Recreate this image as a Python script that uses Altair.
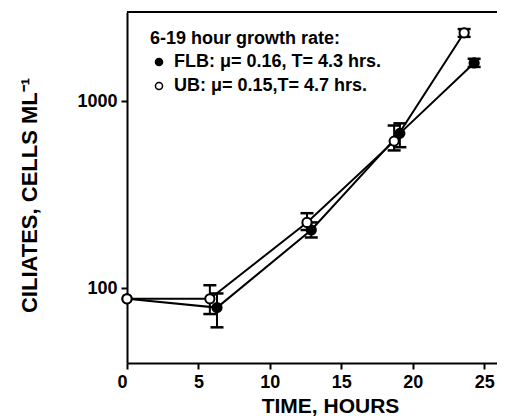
import altair as alt
import pandas as pd

# Data
flb_time = [0, 6.3, 12.9, 19.1, 24.3]
flb_cells = [88, 79, 205, 672, 1596]
flb_low = [None, 62, 187, 567, 1520]
flb_high = [None, 94, 225, 760, 1680]

ub_time = [0, 5.8, 12.6, 18.7, 23.6]
ub_cells = [88, 88, 225, 611, 2312]
ub_low = [None, 73, 205, 545, 2200]
ub_high = [None, 104, 252, 740, 2420]

series_names = ["FLB", "UB"]
series_labels = ["FLB: μ= 0.16,  T= 4.3 hrs.", "UB: μ= 0.15,T= 4.7 hrs."]
legend_title = "6-19 hour growth rate:"
x_ticks = [0, 5, 10, 15, 20, 25]
y_ticks = [100, 1000]

rows = []
for name, lab, t, c, lo, hi in [
    (series_names[0], series_labels[0], flb_time, flb_cells, flb_low, flb_high),
    (series_names[1], series_labels[1], ub_time, ub_cells, ub_low, ub_high),
]:
    for i in range(len(t)):
        rows.append({"series": lab, "time": t[i], "cells": c[i], "low": lo[i], "high": hi[i]})
df = pd.DataFrame(rows)
err = df.dropna(subset=["low", "high"])

FONT = "Liberation Sans"
W, H = 370, 351

xscale = alt.Scale(domain=[0, 25.9], nice=False, zero=False)
yscale = alt.Scale(type="log", domain=[40, 2985], nice=False, clamp=True)

xaxis = alt.Axis(
    values=x_ticks, title="TIME, HOURS", grid=False, labelFlush=False,
    labelAlign={"condition": {"test": "datum.value == 0", "value": "right"}, "value": "center"},
    labelExpr="datum.value == 0 ? '0\u00a0\u00a0' : datum.label",
    titleX=203, titleY=43, titleBaseline="middle", titleAlign="center",
    titleFontSize=21,
)
yaxis = alt.Axis(
    values=y_ticks, title="CILIATES, CELLS ML⁻¹", grid=False, format="d",
    titleX=-98, titleY=183, titleBaseline="middle", titleAlign="center",
)

base = alt.Chart(df)

lines = base.mark_line(color="black", strokeWidth=2).encode(
    x=alt.X("time:Q", scale=xscale, axis=xaxis),
    y=alt.Y("cells:Q", scale=yscale, axis=yaxis),
    detail="series:N",
)

bars = alt.Chart(err).mark_rule(color="black", strokeWidth=2).encode(
    x=alt.X("time:Q", scale=xscale),
    y=alt.Y("low:Q", scale=yscale),
    y2="high:Q",
)
cap_lo = alt.Chart(err).mark_tick(color="black", orient="horizontal", size=13, thickness=2.5, opacity=1).encode(
    x=alt.X("time:Q", scale=xscale),
    y=alt.Y("low:Q", scale=yscale),
)
cap_hi = alt.Chart(err).mark_tick(color="black", orient="horizontal", size=13, thickness=2.5, opacity=1).encode(
    x=alt.X("time:Q", scale=xscale),
    y=alt.Y("high:Q", scale=yscale),
)

points = base.mark_point(shape="circle", size=85, stroke="black", strokeWidth=2, opacity=1, filled=False).encode(
    x=alt.X("time:Q", scale=xscale),
    y=alt.Y("cells:Q", scale=yscale),
    fill=alt.Fill(
        "series:N",
        scale=alt.Scale(domain=series_labels, range=["black", "white"]),
        legend=alt.Legend(
            title=legend_title, orient="none", legendX=23, legendY=18,
            symbolType="circle", symbolSize=50, symbolStrokeColor="black",
            symbolStrokeWidth=1.5, symbolOpacity=1,
            titleFont=FONT, titleFontSize=18, titleFontWeight="bold", titleColor="black",
            titleLimit=400,
            labelFont=FONT, labelFontSize=18, labelFontWeight="bold", labelColor="black",
            rowPadding=6, titlePadding=5, labelOffset=6, labelLimit=400,
        ),
    ),
)

topline = alt.Chart(df).mark_rule(color="black", strokeWidth=2).encode(
    x=alt.value(0), x2=alt.value(W), y=alt.value(0)
)

chart = alt.layer(lines, bars, cap_lo, cap_hi, points, topline).properties(
    width=W, height=H,
    autosize=alt.AutoSizeParams(type="none"),
    padding={"left": 119, "top": 4, "right": 0, "bottom": 56},
    background="white",
).configure_view(stroke=None).configure_axis(
    domainColor="black", domainWidth=2, tickColor="black", tickWidth=2, tickSize=6,
    labelFont=FONT, labelFontSize=18, labelFontWeight="bold", labelColor="black", labelPadding=4,
    titleFont=FONT, titleFontSize=22, titleFontWeight="bold", titleColor="black",
)

chart.save("out.html", embed_options={"renderer": "svg", "actions": False})
